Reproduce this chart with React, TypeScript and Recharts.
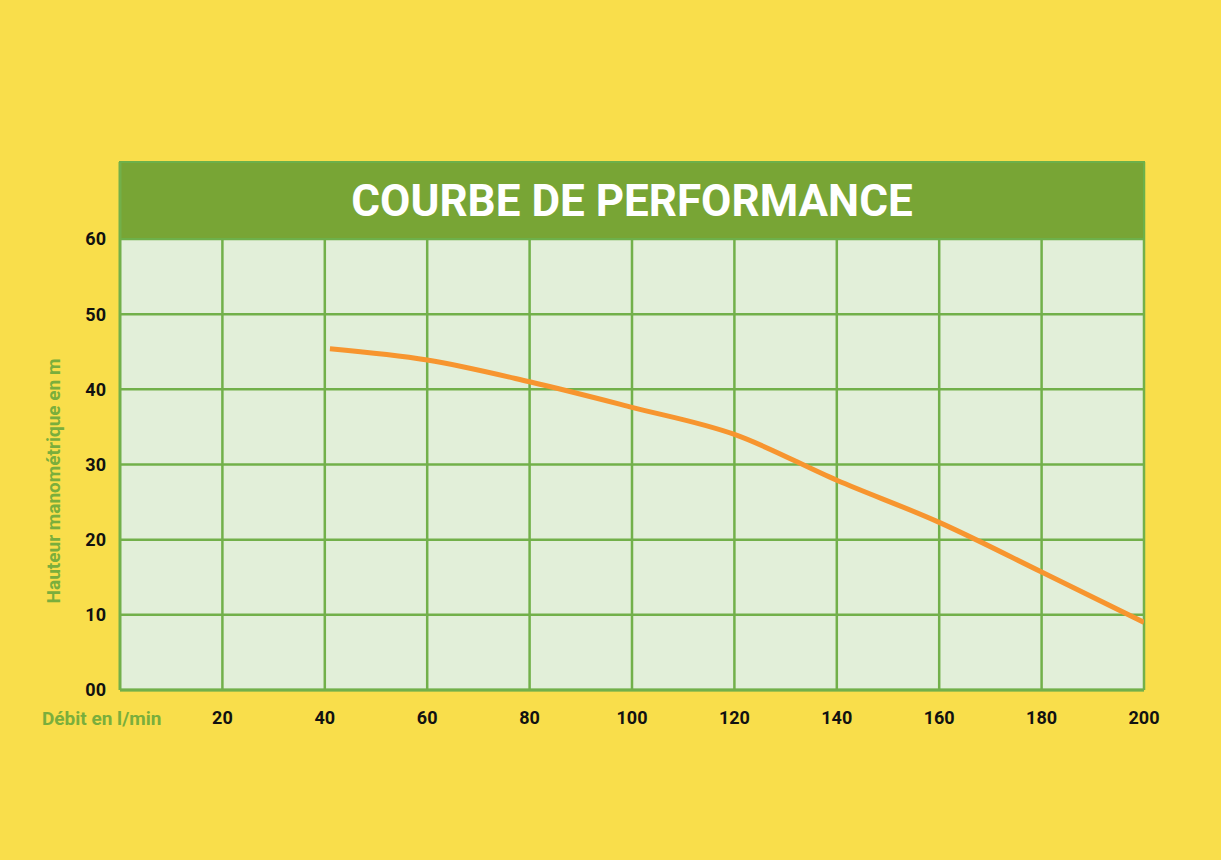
import React from 'react';
import { LineChart, Line, XAxis, YAxis, CartesianGrid, ReferenceArea, Label } from 'recharts';

const flowRates = [41, 60, 80, 100, 120, 140, 160, 180, 200];
const heads = [45.4, 43.9, 41.0, 37.6, 34.0, 27.9, 22.3, 15.7, 9.0];
const xTicks = [20, 40, 60, 80, 100, 120, 140, 160, 180, 200];
const yTicks = [0, 10, 20, 30, 40, 50, 60];
const title = 'COURBE DE PERFORMANCE';
const xLabel = 'Débit en l/min';
const yLabel = 'Hauteur manométrique en m';

const data = flowRates.map((x, i) => ({ x, h: heads[i] }));

const GRID = '#72B04A';
const FONT = 'Roboto, "DejaVu Sans", sans-serif';

export default function App() {
  return (
    <div style={{ position: 'absolute', left: 0, top: 0, width: 1221, height: 860, background: '#F9DE4B' }}>
      <LineChart
        width={1221}
        height={860}
        data={data}
        margin={{ top: 162, right: 77, bottom: 130, left: 60 }}
      >
        <CartesianGrid stroke={GRID} strokeWidth={2.5} fill="#E2EFD9" fillOpacity={1} horizontalValues={yTicks} verticalValues={xTicks} />
        <XAxis
          type="number"
          dataKey="x"
          domain={[0, 200]}
          ticks={xTicks}
          height={40}
          tickLine={false}
          tickMargin={15}
          axisLine={{ stroke: GRID, strokeWidth: 3 }}
          tick={{ fill: '#111', fontSize: 18, fontWeight: 700, fontFamily: FONT }}
          allowDataOverflow
        >
          <Label
            content={(props: any) => {
              const vb = props.viewBox || {};
              return (
                <text x={vb.x - 78} y={vb.y + 35} textAnchor="start" fill="#7AAE3C" fontSize={19} fontWeight={700} fontFamily={FONT}>
                  {xLabel}
                </text>
              );
            }}
          />
        </XAxis>
        <YAxis
          type="number"
          domain={[0, 70.24]}
          ticks={yTicks}
          width={60}
          tickLine={false}
          tickMargin={8}
          tickFormatter={(v: number) => (v === 0 ? '00' : String(v))}
          axisLine={{ stroke: GRID, strokeWidth: 3 }}
          tick={{ fill: '#111', fontSize: 18, fontWeight: 700, fontFamily: FONT }}
          allowDataOverflow
        >
          <Label
            content={(props: any) => {
              const vb = props.viewBox || {};
              const cx = vb.x - 7;
              const cy = 481;
              return (
                <text x={cx} y={cy} transform={`rotate(-90, ${cx}, ${cy})`} textAnchor="middle" dominantBaseline="central" fill="#7AAE3C" fontSize={19} fontWeight={700} fontFamily={FONT}>
                  {yLabel}
                </text>
              );
            }}
          />
        </YAxis>
        <ReferenceArea x1={0} x2={200} y1={60} y2={70.24} fill="#78A535" fillOpacity={1} stroke="#6DB04A" strokeWidth={2} ifOverflow="visible">
          <Label value={title} position="center" fill="#FFFFFF" fontSize={44} fontWeight={700} fontFamily={FONT} />
        </ReferenceArea>
        <Line type="monotone" dataKey="h" stroke="#F7952F" strokeWidth={5} dot={false} isAnimationActive={false} />
      </LineChart>
    </div>
  );
}
